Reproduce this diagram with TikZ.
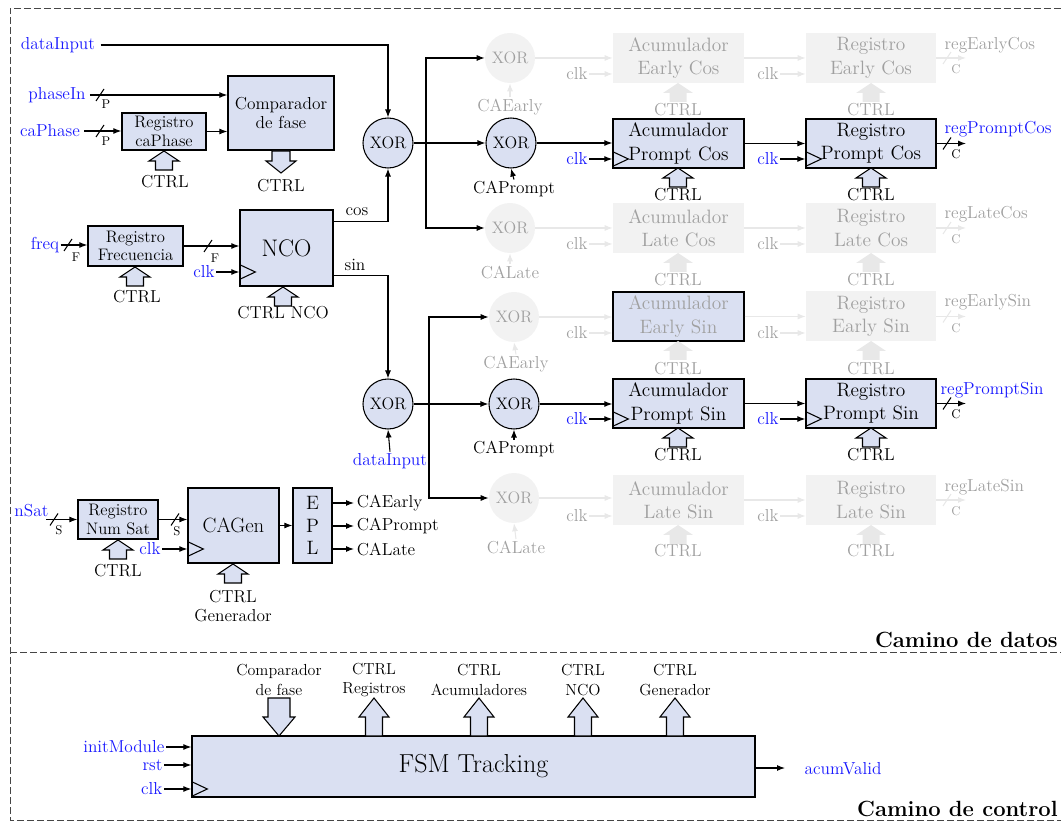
\documentclass[tikz,border=0pt]{standalone}
\usetikzlibrary{arrows.meta,calc}
\definecolor{boxblue}{RGB}{218,224,242}
\definecolor{fadefill}{RGB}{242,242,242}
\definecolor{fadetext}{RGB}{160,160,160}
\definecolor{fadeline}{RGB}{232,232,232}
\definecolor{sigblue}{RGB}{25,25,255}
\definecolor{dashgray}{RGB}{70,70,70}
\newcommand\myfA{\fontsize{14.5}{17.5}\selectfont}
\newcommand\myfB{\fontsize{12.5}{14.5}\selectfont}
\newcommand\myfC{\fontsize{13}{15}\selectfont}
\newcommand\myfD{\fontsize{9.5}{10}\selectfont}
\newcommand\myfE{\fontsize{16.5}{18}\selectfont}
\newcommand\myfF{\fontsize{18}{20}\selectfont}
\newcommand\myfG{\fontsize{15.5}{18}\selectfont}
\newcommand\myfH{\fontsize{19.5}{22}\selectfont}
\newcommand\myfI{\fontsize{12}{14.5}\selectfont}
\newcommand\myfJ{\fontsize{13}{14.5}\selectfont}
\newcommand\myfK{\fontsize{12.5}{14}\selectfont}
\begin{document}
\begin{tikzpicture}[x=0.75pt,y=-0.75pt,
  box/.style={draw, line width=1pt, fill=boxblue, inner sep=0pt, align=center},
  fbox/.style={fill=fadefill, text=fadetext, inner sep=0pt, align=center},
  sz/.style 2 args={minimum width=#1*0.75pt, minimum height=#2*0.75pt},
  xorn/.style={circle, draw, line width=0.8pt, fill=boxblue, minimum size=37.5pt, inner sep=0pt, font=\myfB},
  fxorn/.style={circle, fill=fadefill, text=fadetext, minimum size=37.5pt, inner sep=0pt, font=\myfB},
  lab/.style={inner sep=1pt, font=\myfC},
  blab/.style={lab, text=sigblue},
  flab/.style={lab, text=fadetext},
  clab/.style={inner sep=1pt, font=\myfI, align=center},
  tiny/.style={inner sep=0pt, font=\myfD},
  ftiny/.style={tiny, text=fadetext},
  wire/.style={line width=0.8pt, -{Latex[length=6pt,width=4.5pt]}},
  fwire/.style={wire, fadeline},
  hollow/.style={draw, line width=0.8pt, fill=boxblue},
  frame/.style={dashgray, line width=0.7pt, dash pattern=on 5pt off 2.5pt},
  pics/hup/.style={code={\draw[hollow] (-8.5,0)--(-8.5,-9)--(-15,-9)--(0,-19)--(15,-9)--(8.5,-9)--(8.5,0)--cycle;}},
  pics/fhup/.style={code={\fill[fadeline] (-8.5,0)--(-8.5,-9)--(-15,-9)--(0,-19)--(15,-9)--(8.5,-9)--(8.5,0)--cycle;}},
  pics/hdown/.style={code={\draw[hollow] (-9,0)--(-9,10)--(-15,10)--(0,22)--(15,10)--(9,10)--(9,0)--cycle;}},
  pics/bigup/.style={code={\draw[hollow] (-8.5,0)--(-8.5,-19)--(-15,-19)--(0,-38)--(15,-19)--(8.5,-19)--(8.5,0)--cycle;}},
  pics/bigdown/.style={code={\draw[hollow] (-11,0)--(-11,19)--(-16,19)--(0,38)--(16,19)--(11,19)--(11,0)--cycle;}},
  pics/clock/.style={code={\draw[line width=0.8pt] (0,-7.5)--(16,0)--(0,7.5);}},
  pics/slash/.style={code={\draw[line width=0.8pt] (-4,6)--(4,-6);}},
  pics/fslash/.style={code={\draw[line width=0.8pt, fadeline] (-4,6)--(4,-6);}}
]
\useasboundingbox (0,0) rectangle (1061,823);
% frames
\draw[frame] (1061,8) -- (10,8) -- (10,820) -- (1061,820);
\draw[frame] (10,652) -- (1061,652);
\node[anchor=south east, font=\myfE\bfseries, inner sep=0pt] (cdatos) at (1058,648) {Camino de datos};
\node[anchor=south east, font=\myfE\bfseries, inner sep=0pt] (ccontrol) at (1058,817) {Camino de control};

% ---- phase part
\node[blab] (din) at (58,45) {dataInput};
\node[xorn] (x1) at (388,143) {XOR};
\draw[wire] ([xshift=3pt]din.east) -| (x1.north);
\node[box, sz={106}{74}, font=\myfJ] (comp) at (281,113) {Comparador\\de fase};
\node[box, sz={84}{37}, font=\myfK] (rcp) at (164,131.5) {Registro\\caPhase};
\node[blab] (phin) at (57,95) {phaseIn};
\node[blab] (caph) at (50,131) {caPhase};
\draw[wire] ([xshift=2pt]phin.east) -- (phin -| comp.west);
\pic at (100,95) {slash};
\node[tiny] (p1) at (106,104) {P};
\draw[wire] ([xshift=2pt]caph.east) -- (caph -| rcp.west);
\pic at (100,131) {slash};
\node[tiny] (p2) at (106,141) {P};
\draw[wire] (rcp.east) -- (rcp.east -| comp.west);
\pic at (164,170) {hup};
\node[lab] (ctrl1) at (165,182) {CTRL};
\pic at (281,151) {hdown};
\node[lab] (ctrl2) at (281,186) {CTRL};

% ---- NCO part
\node[box, sz={95}{40}, font=\myfK] (rfr) at (135.5,246) {Registro\\Frecuencia};
\node[blab] (freq) at (45,245) {freq};
\draw[wire] (freq.east) -- (freq -| rfr.west);
\pic at (68,245) {slash};
\node[tiny] (f1) at (76,257) {F};
\node[box, sz={93}{76}, font=\myfF] (nco) at (286.5,248) {NCO};
\draw[wire] (rfr.east) -- (rfr.east -| nco.west);
\pic at (208,246) {slash};
\node[tiny] (f2) at (215,258) {F};
\node[blab] (clkn) at (204,272) {clk};
\draw[wire] (clkn.east) -- (clkn -| nco.west);
\pic at (clkn -| nco.west) {clock};
\pic at (135,286) {hup};
\node[lab] (ctrl3) at (137,297) {CTRL};
\pic at (283,306) {hup};
\node[lab] (ctrl4) at (283,313) {CTRL NCO};
\coordinate (cosout) at ([yshift=-9pt]nco.north east);
\coordinate (sinout) at ([yshift=8.25pt]nco.south east);
\draw[wire] (cosout) -| (x1.south);
\node[lab] (coslab) at (357,212) {cos};
\node[xorn] (x2) at (388,404) {XOR};
\draw[wire] (sinout) -| (x2.north);
\node[lab] (sinlab) at (355,265) {sin};
\node[blab] (din2) at (390,461) {dataInput};
\draw[wire] (din2.north) -- (x2.south);

% ---- cos column
\node[fxorn] (xec) at (510,58) {XOR};
\node[xorn] (xpc) at (511,143) {XOR};
\node[fxorn] (xlc) at (510,228) {XOR};
\coordinate (br1) at (426,143);
\draw[wire] (x1.east) -- (xpc.west);
\draw[wire] (br1) |- (xec.west);
\draw[wire] (br1) |- (xlc.west);
\node[flab] (caec) at (510,107) {CAEarly};
\node[lab] (capc) at (514,189) {CAPrompt};
\node[flab] (calc) at (510,272) {CALate};
\draw[fwire] (caec.north) -- (xec.south);
\draw[wire] (capc.north) -- (xpc.south);
\draw[fwire] (calc.north) -- (xlc.south);

\node[fbox, sz={131}{50}, font=\myfA] (aec) at (678.5,58) {Acumulador\\Early Cos};
\node[box, sz={131}{49}, font=\myfA] (apc) at (678.5,143.5) {Acumulador\\Prompt Cos};
\node[fbox, sz={131}{50}, font=\myfA] (alc) at (678.5,228) {Acumulador\\Late Cos};
\node[fbox, sz={130}{50}, font=\myfA] (rec) at (871,58) {Registro\\Early Cos};
\node[box, sz={130}{49}, font=\myfA] (rpc) at (871,143.5) {Registro\\Prompt Cos};
\node[fbox, sz={130}{50}, font=\myfA] (rlc) at (871,228) {Registro\\Late Cos};

\draw[fwire] (xec.east) -- (xec.east -| aec.west);
\draw[wire] (xpc.east) -- (xpc.east -| apc.west);
\draw[fwire] (xlc.east) -- (xlc.east -| alc.west);
\draw[fwire] (aec.east) -- (rec.west);
\draw[wire] (apc.east) -- (rpc.west);
\draw[fwire] (alc.east) -- (rlc.west);

\node[flab] (ck1) at (577,74) {clk};
\node[blab] (ck2) at (577,159) {clk};
\node[flab] (ck3) at (577,244) {clk};
\node[flab] (ck4) at (768,74) {clk};
\node[blab] (ck5) at (768,159) {clk};
\node[flab] (ck6) at (768,244) {clk};
\draw[fwire] (ck1.east) -- (ck1 -| aec.west);
\draw[wire] (ck2.east) -- (ck2 -| apc.west);
\pic at (ck2 -| apc.west) {clock};
\draw[fwire] (ck3.east) -- (ck3 -| alc.west);
\draw[fwire] (ck4.east) -- (ck4 -| rec.west);
\draw[wire] (ck5.east) -- (ck5 -| rpc.west);
\pic at (ck5 -| rpc.west) {clock};
\draw[fwire] (ck6.east) -- (ck6 -| rlc.west);

\pic at (678,102) {fhup};
\node[flab] (t1) at (678,110) {CTRL};
\pic at (678,187) {hup};
\node[lab] (t2) at (678,195) {CTRL};
\pic at (678,272) {fhup};
\node[flab] (t3) at (678,280) {CTRL};
\pic at (871,102) {fhup};
\node[flab] (t4) at (871,110) {CTRL};
\pic at (871,187) {hup};
\node[lab] (t5) at (871,195) {CTRL};
\pic at (871,272) {fhup};
\node[flab] (t6) at (871,280) {CTRL};

\coordinate (oec) at (966,58);
\coordinate (opc) at (966,143.5);
\coordinate (olc) at (966,228);
\draw[fwire] (rec.east) -- (oec);
\draw[wire] (rpc.east) -- (opc);
\draw[fwire] (rlc.east) -- (olc);
\pic at (947,58) {fslash};
\pic at (947,143.5) {slash};
\pic at (947,228) {fslash};
\node[ftiny] (c1) at (956,69) {C};
\node[tiny] (c2) at (956,154) {C};
\node[ftiny] (c3) at (956,239) {C};
\node[flab, anchor=west] (r1) at (943,45) {regEarlyCos};
\node[blab, anchor=west] (r2) at (943,129) {regPromptCos};
\node[flab, anchor=west] (r3) at (943,214) {regLateCos};

% ---- sin column
\node[fxorn] (xes) at (514,317) {XOR};
\node[xorn] (xps) at (514,404) {XOR};
\node[fxorn] (xls) at (514,498) {XOR};
\coordinate (br2) at (429,404);
\draw[wire] (x2.east) -- (xps.west);
\draw[wire] (br2) |- (xes.west);
\draw[wire] (br2) |- (xls.west);
\node[flab] (caes) at (516,364) {CAEarly};
\node[lab] (caps) at (514,449) {CAPrompt};
\node[flab] (cals) at (516,547) {CALate};
\draw[fwire] (caes.north) -- (xes.south);
\draw[wire] (caps.north) -- (xps.south);
\draw[fwire] (cals.north) -- (xls.south);

\node[box, text=fadetext, sz={131}{49}, font=\myfA] (aes) at (678.5,316.5) {Acumulador\\Early Sin};
\node[box, sz={131}{49}, font=\myfA] (aps) at (678.5,403.5) {Acumulador\\Prompt Sin};
\node[fbox, sz={131}{50}, font=\myfA] (als) at (678.5,500) {Acumulador\\Late Sin};
\node[fbox, sz={130}{50}, font=\myfA] (res) at (871,316.5) {Registro\\Early Sin};
\node[box, sz={130}{49}, font=\myfA] (rps) at (871,403.5) {Registro\\Prompt Sin};
\node[fbox, sz={130}{50}, font=\myfA] (rls) at (871,500) {Registro\\Late Sin};

\draw[fwire] (xes.east) -- (xes.east -| aes.west);
\draw[wire] (xps.east) -- (xps.east -| aps.west);
\draw[fwire] (xls.east) -- (xls.east -| als.west);
\draw[fwire] (aes.east) -- (res.west);
\draw[wire] (aps.east) -- (rps.west);
\draw[fwire] (als.east) -- (rls.west);

\node[flab] (ck7) at (577,333) {clk};
\node[blab] (ck8) at (577,419) {clk};
\node[flab] (ck9) at (577,516) {clk};
\node[flab] (ck10) at (768,333) {clk};
\node[blab] (ck11) at (768,419) {clk};
\node[flab] (ck12) at (768,516) {clk};
\draw[fwire] (ck7.east) -- (ck7 -| aes.west);
\draw[wire] (ck8.east) -- (ck8 -| aps.west);
\pic at (ck8 -| aps.west) {clock};
\draw[fwire] (ck9.east) -- (ck9 -| als.west);
\draw[fwire] (ck10.east) -- (ck10 -| res.west);
\draw[wire] (ck11.east) -- (ck11 -| rps.west);
\pic at (ck11 -| rps.west) {clock};
\draw[fwire] (ck12.east) -- (ck12 -| rls.west);

\pic at (678,360) {fhup};
\node[flab] (t7) at (678,369) {CTRL};
\pic at (678,447) {hup};
\node[lab] (t8) at (678,455) {CTRL};
\pic at (678,544) {fhup};
\node[flab] (t9) at (678,551) {CTRL};
\pic at (871,360) {fhup};
\node[flab] (t10) at (871,369) {CTRL};
\pic at (871,447) {hup};
\node[lab] (t11) at (871,455) {CTRL};
\pic at (871,544) {fhup};
\node[flab] (t12) at (871,551) {CTRL};

\coordinate (oes) at (966,316.5);
\coordinate (ops) at (966,403.5);
\coordinate (ols) at (966,500);
\draw[fwire] (res.east) -- (oes);
\draw[wire] (rps.east) -- (ops);
\draw[fwire] (rls.east) -- (ols);
\pic at (947,316.5) {fslash};
\pic at (947,403.5) {slash};
\pic at (947,500) {fslash};
\node[ftiny] (c4) at (956,328) {C};
\node[tiny] (c5) at (956,414) {C};
\node[ftiny] (c6) at (956,511) {C};
\node[flab, anchor=west] (r4) at (943,302) {regEarlySin};
\node[blab, anchor=west] (r5) at (939,390) {regPromptSin};
\node[flab, anchor=west] (r6) at (943,487) {regLateSin};

% ---- code generator
\node[box, sz={80}{39}, font=\myfK] (rns) at (118,519.5) {Registro\\Num Sat};
\node[blab, anchor=east] (nsat) at (50,511) {nSat};
\coordinate (nsatout) at (46,519.5);
\draw[wire] (nsatout) -- (nsatout -| rns.west);
\pic at (54,519.5) {slash};
\node[tiny] (s1) at (59,530) {S};
\node[box, sz={91}{75}, font=\myfG] (cag) at (233.5,525.5) {CAGen};
\draw[wire] (rns.east) -- (rns.east -| cag.west);
\pic at (175,519.5) {slash};
\node[tiny] (s2) at (177,531) {S};
\node[blab] (clkg) at (150,549) {clk};
\draw[wire] (clkg.east) -- (clkg -| cag.west);
\pic at (clkg -| cag.west) {clock};
\pic at (118,559) {hup};
\node[lab] (ctrl5) at (118,571) {CTRL};
\pic at (233,583) {hup};
\node[lab, align=center, font=\fontsize{13}{14}\selectfont] (ctrl6) at (233,606) {CTRL\\Generador};
\node[box, sz={39}{75}, font=\fontsize{14.5}{17}\selectfont] (epl) at (312.5,525.5) {E\\P\\L};
\draw[wire] (cag.east) -- (epl.west);
\node[lab, anchor=west, inner sep=2pt] (oe) at (354,503) {CAEarly};
\node[lab, anchor=west, inner sep=2pt] (op) at (354,526) {CAPrompt};
\node[lab, anchor=west, inner sep=2pt] (ol) at (354,549) {CALate};
\draw[wire] (oe.west -| epl.east) -- (oe.west);
\draw[wire] (op.west -| epl.east) -- (op.west);
\draw[wire] (ol.west -| epl.east) -- (ol.west);

% ---- control path
\node[box, sz={563}{61}, font=\myfH] (fsm) at (473.5,766.5) {FSM Tracking};
\node[blab, anchor=east] (init) at (166,747) {initModule};
\node[blab, anchor=east] (rst) at (164,765) {rst};
\node[blab, anchor=east] (clkf) at (164,789) {clk};
\draw[wire] (init.east) -- (init.east -| fsm.west);
\draw[wire] (rst.east) -- (rst.east -| fsm.west);
\draw[wire] (clkf.east) -- (clkf.east -| fsm.west);
\pic at (clkf.east -| fsm.west) {clock};
\coordinate (acvend) at (785,768);
\draw[wire] (fsm.east |- acvend) -- (acvend);
\node[blab] (acv) at (843,769) {acumValid};

\pic at (279,698) {bigdown};
\pic at (374,736) {bigup};
\pic at (479,736) {bigup};
\pic at (583,736) {bigup};
\pic at (675,736) {bigup};
\node[clab] (k1) at (279,680) {Comparador\\de fase};
\node[clab] (k2) at (374,680) {CTRL\\Registros};
\node[clab] (k3) at (479,680) {CTRL\\Acumuladores};
\node[clab] (k4) at (583,680) {CTRL\\NCO};
\node[clab] (k5) at (675,680) {CTRL\\Generador};
\end{tikzpicture}
\end{document}
